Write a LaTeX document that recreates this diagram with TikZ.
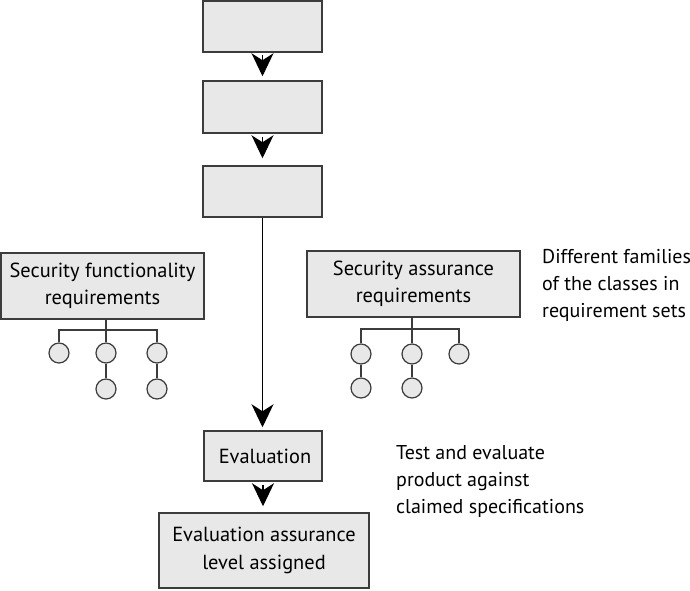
\documentclass[tikz,border=0pt]{standalone}
\usepackage{fontspec}
\setmainfont{PT Sans}
\usetikzlibrary{arrows.meta}
\definecolor{boxfill}{HTML}{E8E8E8}
\definecolor{boxline}{HTML}{3C3C3C}
\begin{document}
\begin{tikzpicture}[x=1pt,y=-1pt,
  box/.style={draw=boxline,fill=boxfill,line width=1.5pt,rectangle,inner sep=0pt,align=center,
    font=\fontsize{20.4}{27.5}\selectfont},
  leaf/.style={draw=boxline,fill=boxfill,line width=1.2pt,circle,minimum size=20pt,inner sep=0pt},
  tree/.style={draw=boxline,line width=1.2pt},
  flow/.style={draw=black,line width=1.1pt,-{Stealth[length=23pt,width=22pt,inset=7pt]}},
  note/.style={align=left,anchor=north west,inner sep=0pt,font=\fontsize{20}{27}\selectfont}]
\useasboundingbox (0,0) rectangle (690,590);
\node[box,minimum width=119pt,minimum height=51pt] (b1) at (262.5,26.5) {};
\node[box,minimum width=119pt,minimum height=52pt] (b2) at (262.5,107) {};
\node[box,minimum width=119pt,minimum height=51pt] (b3) at (262.5,191.5) {};
\node[box,minimum width=203pt,minimum height=66pt] (sf) at (102.5,286) {\raisebox{-2pt}{\parbox{200pt}{\centering Security functionality\\requirements}}};
\node[box,minimum width=213pt,minimum height=66pt] (sa) at (413.5,284) {\raisebox{-2pt}{\parbox{210pt}{\centering Security assurance\\requirements}}};
\node[box,minimum width=118pt,minimum height=50pt] (ev) at (263,456) {\hspace{4pt}Evaluation};
\node[box,minimum width=210pt,minimum height=75pt] (eal) at (264,550.5) {Evaluation assurance\\level assigned};

\node[note] (n1) at (542,249) {Different families\\of the classes in\\requirement sets};
\node[note] (n2) at (396,445) {Test and evaluate\\product against\\claimed specifications};

% left tree
\coordinate (j1) at (106,330);
\node[leaf] (l1) at (59,353) {};
\node[leaf] (l2) at (106,353) {};
\node[leaf] (l3) at (157,353) {};
\node[leaf] (l4) at (106,389) {};
\node[leaf] (l5) at (157,389) {};
\draw[tree] (sf.south -| j1) -- (j1);
\draw[tree] (l1.north) |- (j1) -| (l3.north);
\draw[tree] (j1) -- (l2.north);
\draw[tree] (l2.south) -- (l4.north);
\draw[tree] (l3.south) -- (l5.north);

% right tree
\coordinate (j2) at (412,329);
\node[leaf] (r1) at (361,354) {};
\node[leaf] (r2) at (412,354) {};
\node[leaf] (r3) at (459,354) {};
\node[leaf] (r4) at (361,388) {};
\node[leaf] (r5) at (412,388) {};
\draw[tree] (sa.south -| j2) -- (j2);
\draw[tree] (r1.north) |- (j2) -| (r3.north);
\draw[tree] (j2) -- (r2.north);
\draw[tree] (r1.south) -- (r4.north);
\draw[tree] (r2.south) -- (r5.north);

% flow arrows
\draw[flow,shorten <=2pt,shorten >=4pt] (b1.south) -- (b2.north);
\draw[flow,shorten <=3pt,shorten >=7pt] (b2.south) -- (b3.north);
\draw[flow,shorten >=3pt] (b3.south) -- (b3.south |- ev.north);
\draw[flow,shorten <=3pt,shorten >=6pt] (ev.south) -- (ev.south |- eal.north);
\end{tikzpicture}
\end{document}
